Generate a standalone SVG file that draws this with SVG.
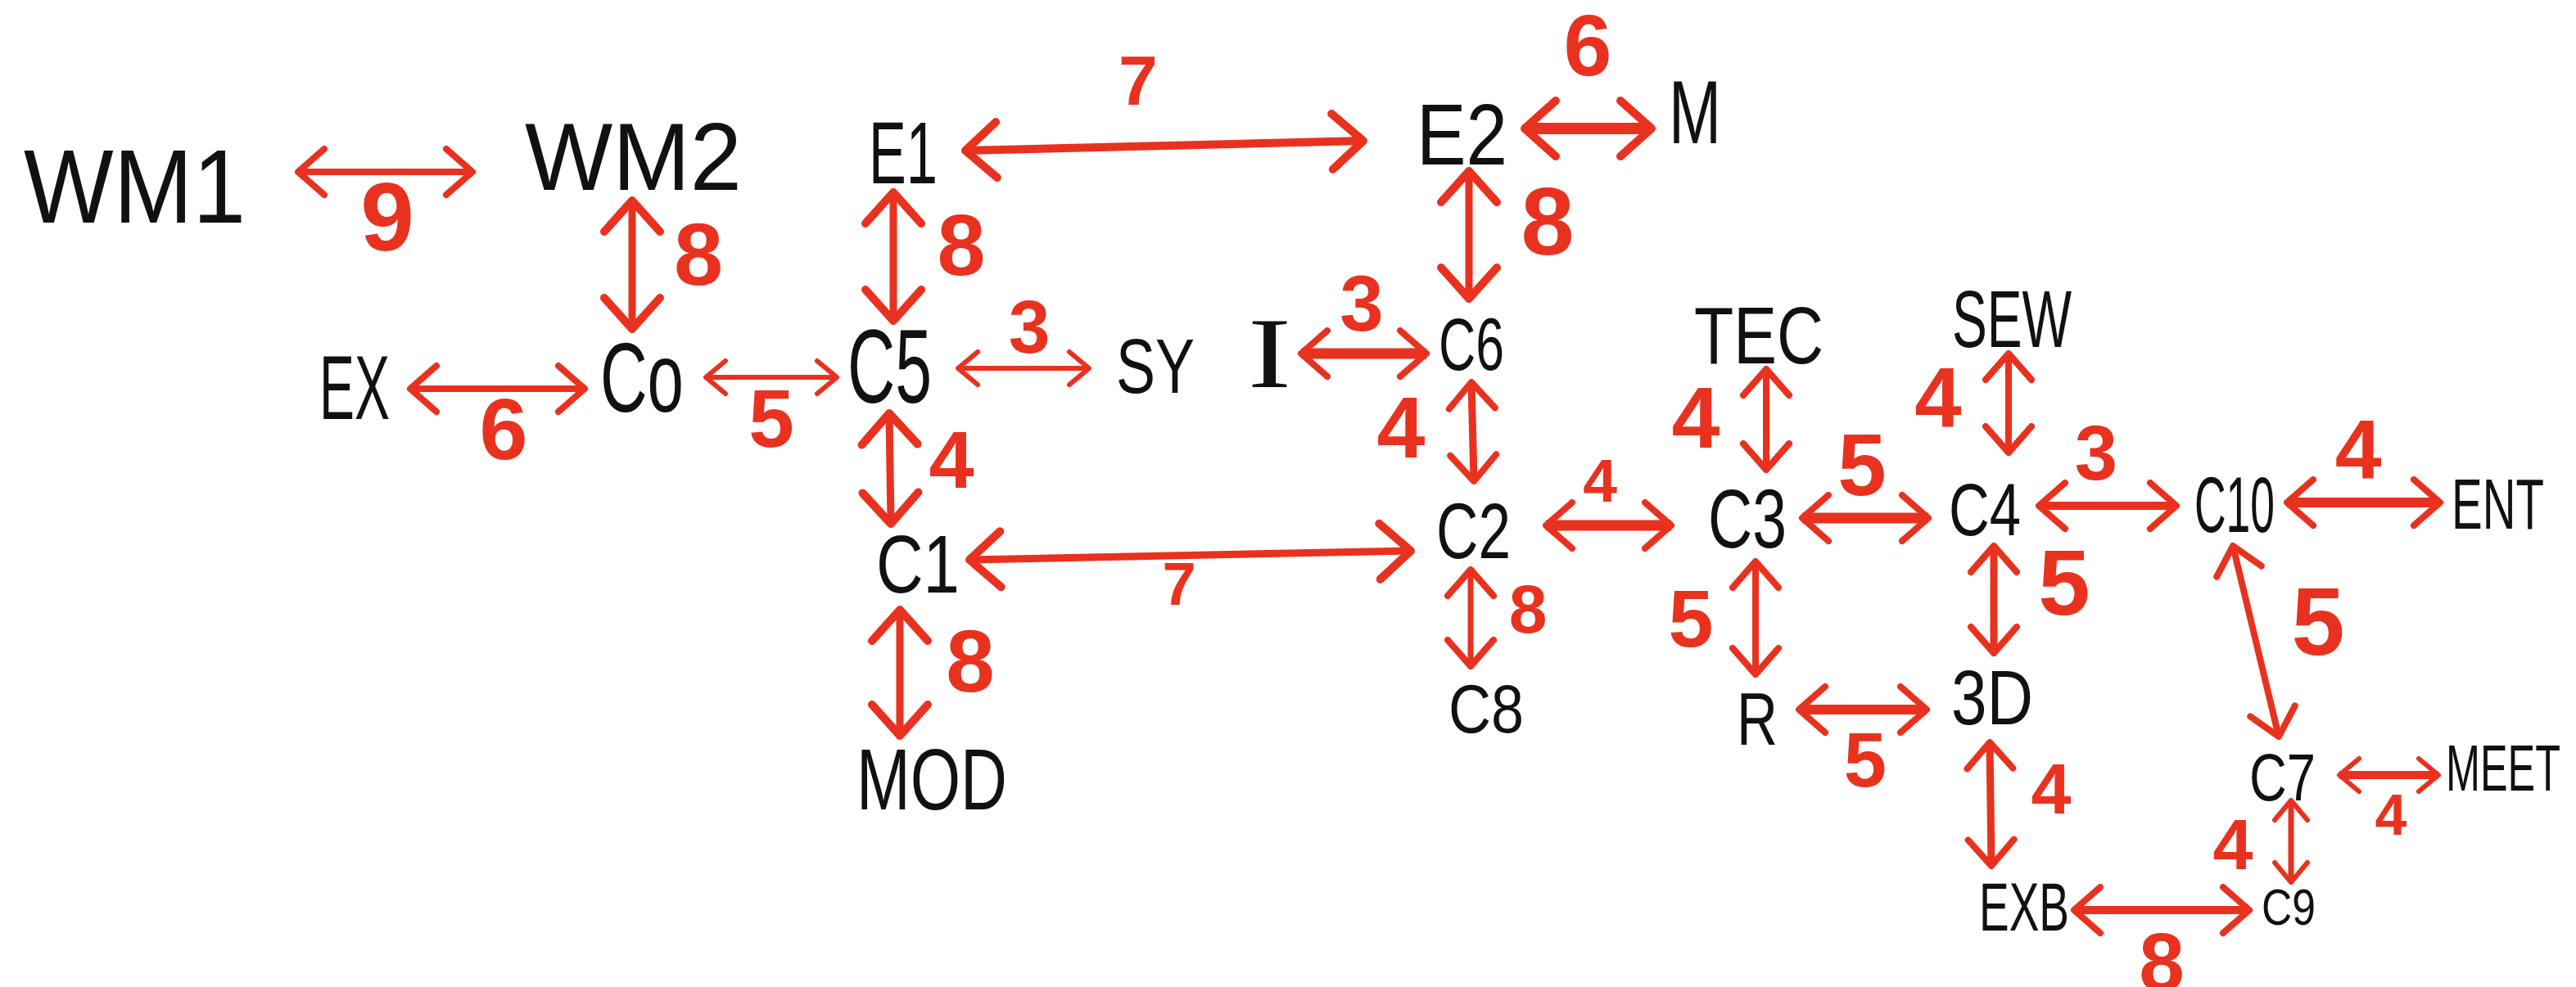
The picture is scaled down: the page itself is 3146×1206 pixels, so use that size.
<svg xmlns="http://www.w3.org/2000/svg" width="3146" height="1206" viewBox="0 0 3146 1206">
  <style>
    .node { font-family: "Liberation Sans", Arial, sans-serif; fill: #111; }
    .serif { font-family: "Liberation Serif", "Times New Roman", serif; fill: #111; }
    .w { font-family: "Liberation Sans", Arial, sans-serif; font-weight: bold; fill: #e8321f; text-anchor: middle; }
    .edge { stroke: #e8321f; fill: none; stroke-linecap: butt; }
  </style>
  <defs>
    <marker id="hl" markerUnits="userSpaceOnUse" orient="auto-start-reverse" overflow="visible" refX="0" refY="0" markerWidth="1" markerHeight="1">
      <path d="M-38,-34 L0,0 L-38,34" fill="none" stroke="#e8321f" stroke-width="10" stroke-linecap="round" stroke-linejoin="round"/>
    </marker>
    <marker id="hm" markerUnits="userSpaceOnUse" orient="auto-start-reverse" overflow="visible" refX="0" refY="0" markerWidth="1" markerHeight="1">
      <path d="M-32,-28 L0,0 L-32,28" fill="none" stroke="#e8321f" stroke-width="8" stroke-linecap="round" stroke-linejoin="round"/>
    </marker>
    <marker id="hs" markerUnits="userSpaceOnUse" orient="auto-start-reverse" overflow="visible" refX="0" refY="0" markerWidth="1" markerHeight="1">
      <path d="M-24,-20 L0,0 L-24,20" fill="none" stroke="#e8321f" stroke-width="6" stroke-linecap="round" stroke-linejoin="round"/>
    </marker>
  </defs>
  <rect width="3146" height="1206" fill="#ffffff"/>

  <!-- connectors: double-headed red arrows with weights -->
  <g id="connectors">
    <line class="edge" x1="364" y1="210" x2="577" y2="210" stroke-width="8" marker-start="url(#hm)" marker-end="url(#hm)"/>
    <text class="w" x="473" y="306" font-size="118">9</text>

    <line class="edge" x1="772" y1="245" x2="772" y2="402" stroke-width="9" marker-start="url(#hl)" marker-end="url(#hl)"/>
    <text class="w" x="853" y="348" font-size="108">8</text>

    <line class="edge" x1="501" y1="475" x2="714" y2="475" stroke-width="8" marker-start="url(#hm)" marker-end="url(#hm)"/>
    <text class="w" x="615" y="561" font-size="106">6</text>

    <line class="edge" x1="862" y1="461" x2="1022" y2="461" stroke-width="6" marker-start="url(#hs)" marker-end="url(#hs)"/>
    <text class="w" x="942" y="546" font-size="100">5</text>

    <line class="edge" x1="1179" y1="184" x2="1665" y2="172" stroke-width="10" marker-start="url(#hl)" marker-end="url(#hl)"/>
    <text class="w" x="1390" y="128" font-size="86">7</text>

    <line class="edge" x1="1862" y1="157" x2="2017" y2="157" stroke-width="14" marker-start="url(#hl)" marker-end="url(#hl)"/>
    <text class="w" x="1939" y="92" font-size="106">6</text>

    <line class="edge" x1="1091" y1="235" x2="1091" y2="392" stroke-width="9" marker-start="url(#hl)" marker-end="url(#hl)"/>
    <text class="w" x="1174" y="336" font-size="106">8</text>

    <line class="edge" x1="1794" y1="209" x2="1794" y2="365" stroke-width="9" marker-start="url(#hl)" marker-end="url(#hl)"/>
    <text class="w" x="1890" y="311" font-size="117">8</text>

    <line class="edge" x1="1170" y1="450" x2="1330" y2="450" stroke-width="6" marker-start="url(#hs)" marker-end="url(#hs)"/>
    <text class="w" x="1257" y="431" font-size="91">3</text>

    <line class="edge" x1="1589" y1="432" x2="1742" y2="432" stroke-width="13" marker-start="url(#hm)" marker-end="url(#hm)"/>
    <text class="w" x="1663" y="404" font-size="96">3</text>

    <line class="edge" x1="1086" y1="505" x2="1088" y2="640" stroke-width="9" marker-start="url(#hl)" marker-end="url(#hl)"/>
    <text class="w" x="1162" y="596" font-size="99">4</text>

    <line class="edge" x1="1797" y1="467" x2="1800" y2="588" stroke-width="9" marker-start="url(#hm)" marker-end="url(#hm)"/>
    <text class="w" x="1711" y="559" font-size="106">4</text>

    <line class="edge" x1="1184" y1="684" x2="1723" y2="673" stroke-width="9" marker-start="url(#hl)" marker-end="url(#hl)"/>
    <text class="w" x="1440" y="739" font-size="74">7</text>

    <line class="edge" x1="1099" y1="745" x2="1099" y2="899" stroke-width="9" marker-start="url(#hl)" marker-end="url(#hl)"/>
    <text class="w" x="1185" y="845" font-size="107">8</text>

    <line class="edge" x1="1796" y1="696" x2="1796" y2="814" stroke-width="7" marker-start="url(#hm)" marker-end="url(#hm)"/>
    <text class="w" x="1866" y="773" font-size="84">8</text>

    <line class="edge" x1="1888" y1="642" x2="2041" y2="642" stroke-width="13" marker-start="url(#hm)" marker-end="url(#hm)"/>
    <text class="w" x="1954" y="613" font-size="75">4</text>

    <line class="edge" x1="2157" y1="451" x2="2157" y2="574" stroke-width="8" marker-start="url(#hm)" marker-end="url(#hm)"/>
    <text class="w" x="2071" y="547" font-size="106">4</text>

    <line class="edge" x1="2453" y1="432" x2="2453" y2="553" stroke-width="8" marker-start="url(#hm)" marker-end="url(#hm)"/>
    <text class="w" x="2367" y="522" font-size="103">4</text>

    <line class="edge" x1="2201" y1="633" x2="2355" y2="633" stroke-width="13" marker-start="url(#hm)" marker-end="url(#hm)"/>
    <text class="w" x="2274" y="605" font-size="107">5</text>

    <line class="edge" x1="2490" y1="618" x2="2658" y2="618" stroke-width="10" marker-start="url(#hm)" marker-end="url(#hm)"/>
    <text class="w" x="2560" y="586" font-size="94">3</text>

    <line class="edge" x1="2793" y1="614" x2="2980" y2="614" stroke-width="12" marker-start="url(#hm)" marker-end="url(#hm)"/>
    <text class="w" x="2880" y="584" font-size="102">4</text>

    <line class="edge" x1="2144" y1="686" x2="2144" y2="824" stroke-width="8" marker-start="url(#hm)" marker-end="url(#hm)"/>
    <text class="w" x="2065" y="790" font-size="99">5</text>

    <line class="edge" x1="2435" y1="667" x2="2435" y2="798" stroke-width="9" marker-start="url(#hm)" marker-end="url(#hm)"/>
    <text class="w" x="2521" y="751" font-size="114">5</text>

    <line class="edge" x1="2727" y1="667" x2="2783" y2="900" stroke-width="8" marker-start="url(#hm)" marker-end="url(#hm)"/>
    <text class="w" x="2831" y="800" font-size="117">5</text>

    <line class="edge" x1="2197" y1="867" x2="2353" y2="867" stroke-width="12" marker-start="url(#hm)" marker-end="url(#hm)"/>
    <text class="w" x="2278" y="961" font-size="94">5</text>

    <line class="edge" x1="2430" y1="907" x2="2432" y2="1058" stroke-width="9" marker-start="url(#hm)" marker-end="url(#hm)"/>
    <text class="w" x="2505" y="994" font-size="88">4</text>

    <line class="edge" x1="2857" y1="947" x2="2978" y2="947" stroke-width="10" marker-start="url(#hs)" marker-end="url(#hs)"/>
    <text class="w" x="2920" y="1020" font-size="70">4</text>

    <line class="edge" x1="2798" y1="978" x2="2798" y2="1078" stroke-width="7" marker-start="url(#hs)" marker-end="url(#hs)"/>
    <text class="w" x="2727" y="1062" font-size="88">4</text>

    <line class="edge" x1="2533" y1="1112" x2="2747" y2="1112" stroke-width="10" marker-start="url(#hm)" marker-end="url(#hm)"/>
    <text class="w" x="2640" y="1210" font-size="100">8</text>
  </g>

  <!-- nodes -->
  <g id="WM1"><text class="node" x="29" y="272" font-size="128" textLength="271" lengthAdjust="spacingAndGlyphs">WM1</text></g>
  <g id="WM2"><text class="node" x="641" y="232" font-size="116" textLength="265" lengthAdjust="spacingAndGlyphs">WM2</text></g>
  <g id="EX"><text class="node" x="390" y="512" font-size="112" textLength="86" lengthAdjust="spacingAndGlyphs">EX</text></g>
  <g id="C0"><text class="node" x="733" y="503" font-size="120" textLength="102" lengthAdjust="spacingAndGlyphs">Co</text></g>
  <g id="C5"><text class="node" x="1035" y="492" font-size="128" textLength="103" lengthAdjust="spacingAndGlyphs">C5</text></g>
  <g id="SY"><text class="node" x="1363" y="480" font-size="94" textLength="96" lengthAdjust="spacingAndGlyphs">SY</text></g>
  <g id="I"><text class="serif" x="1524" y="473" font-size="123" textLength="53" lengthAdjust="spacingAndGlyphs">I</text></g>
  <g id="C6"><text class="node" x="1757" y="452" font-size="91" textLength="80" lengthAdjust="spacingAndGlyphs">C6</text></g>
  <g id="E1"><text class="node" x="1061" y="224" font-size="107" textLength="84" lengthAdjust="spacingAndGlyphs">E1</text></g>
  <g id="E2"><text class="node" x="1730" y="201" font-size="105" textLength="111" lengthAdjust="spacingAndGlyphs">E2</text></g>
  <g id="M"><text class="node" x="2038" y="175" font-size="109" textLength="64" lengthAdjust="spacingAndGlyphs">M</text></g>
  <g id="C1"><text class="node" x="1070" y="724" font-size="100" textLength="102" lengthAdjust="spacingAndGlyphs">C1</text></g>
  <g id="MOD"><text class="node" x="1046" y="989" font-size="106" textLength="184" lengthAdjust="spacingAndGlyphs">MOD</text></g>
  <g id="C2"><text class="node" x="1754" y="682" font-size="96" textLength="91" lengthAdjust="spacingAndGlyphs">C2</text></g>
  <g id="C8"><text class="node" x="1769" y="895" font-size="84" textLength="92" lengthAdjust="spacingAndGlyphs">C8</text></g>
  <g id="C3"><text class="node" x="2086" y="669" font-size="102" textLength="96" lengthAdjust="spacingAndGlyphs">C3</text></g>
  <g id="TEC"><text class="node" x="2069" y="444" font-size="99" textLength="158" lengthAdjust="spacingAndGlyphs">TEC</text></g>
  <g id="SEW"><text class="node" x="2384" y="424" font-size="98" textLength="146" lengthAdjust="spacingAndGlyphs">SEW</text></g>
  <g id="C4"><text class="node" x="2380" y="654" font-size="91" textLength="88" lengthAdjust="spacingAndGlyphs">C4</text></g>
  <g id="C10"><text class="node" x="2680" y="650" font-size="96" textLength="98" lengthAdjust="spacingAndGlyphs">C10</text></g>
  <g id="ENT"><text class="node" x="2994" y="646" font-size="88" textLength="113" lengthAdjust="spacingAndGlyphs">ENT</text></g>
  <g id="R"><text class="node" x="2121" y="910" font-size="91" textLength="50" lengthAdjust="spacingAndGlyphs">R</text></g>
  <g id="N3D"><text class="node" x="2383" y="885" font-size="94" textLength="100" lengthAdjust="spacingAndGlyphs">3D</text></g>
  <g id="C7"><text class="node" x="2747" y="978" font-size="82" textLength="81" lengthAdjust="spacingAndGlyphs">C7</text></g>
  <g id="MEET"><text class="node" x="2987" y="966" font-size="80" textLength="140" lengthAdjust="spacingAndGlyphs">MEET</text></g>
  <g id="EXB"><text class="node" x="2417" y="1137" font-size="84" textLength="110" lengthAdjust="spacingAndGlyphs">EXB</text></g>
  <g id="C9"><text class="node" x="2762" y="1130" font-size="63" textLength="66" lengthAdjust="spacingAndGlyphs">C9</text></g>
</svg>
